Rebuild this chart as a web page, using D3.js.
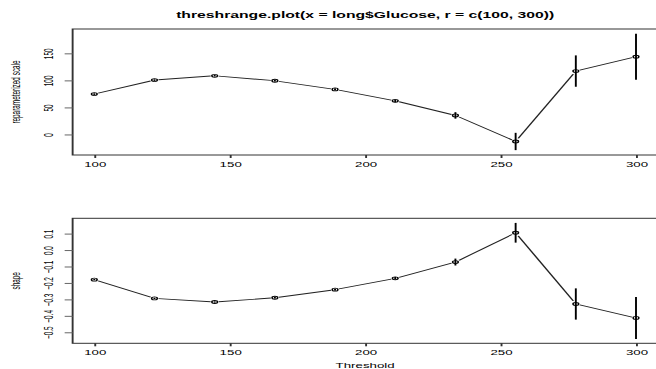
<!DOCTYPE html>
<html>
<head>
<meta charset="utf-8">
<script src="https://cdn.jsdelivr.net/npm/d3@7"></script>
<style>
  html, body { margin: 0; padding: 0; background: #fff; }
  svg { display: block; }
  text { font-family: "Liberation Sans", Arial, Helvetica, sans-serif; fill: #000; }
</style>
</head>
<body>
<svg id="chart" width="656" height="369"></svg>
<script>
// ---- data ----
const thresholds = [100, 122.22, 144.44, 166.67, 188.89, 211.11, 233.33, 255.56, 277.78, 300];
const scaleVals  = [74.6, 100.5, 108.5, 99.3, 83.3, 62.2, 35.2, -13, 117.2, 143.7];
const scaleErr   = [1.5, 1.5, 1.5, 1.5, 2, 2.5, 6, 16, 29, 42.5];
const shapeVals  = [-0.180, -0.294, -0.316, -0.290, -0.241, -0.172, -0.073, 0.105, -0.328, -0.413];
const shapeErr   = [0.004, 0.004, 0.004, 0.005, 0.006, 0.008, 0.021, 0.06, 0.095, 0.128];
const xTicks     = [100, 150, 200, 250, 300];
const scaleTicks = [0, 50, 100, 150];
const shapeTicks = [-0.5, -0.4, -0.3, -0.2, -0.1, 0.0, 0.1];
const titleText  = "threshrange.plot(x = long$Glucose, r = c(100, 300))";
const xLabel     = "Threshold";
const scaleLabel = "reparameterized scale";
const shapeLabel = "shape";

// ---- layout ----
const K = 1.9; // horizontal stretch of the whole picture
const svg = d3.select("#chart");
const root = svg.append("g").attr("transform", `scale(${K},1)`);

const x = d3.scaleLinear().domain([100, 300]).range([94.3 / K, 636 / K]);
const xDom = [92, 308];

const panels = [
  { vals: scaleVals, err: scaleErr, ticks: scaleTicks, label: scaleLabel,
    y: d3.scaleLinear().domain([-38, 195]).range([155, 29]), fmt: d3.format("d") },
  { vals: shapeVals, err: shapeErr, ticks: shapeTicks, label: shapeLabel,
    y: d3.scaleLinear().domain([-0.567, 0.193]).range([343.3, 218.3]), fmt: d3.format(".1f") }
];

const dark = "#222";

panels.forEach((p, pi) => {
  const g = root.append("g");
  const y = p.y;
  const [yb, yt] = y.range();
  const xl = x(xDom[0]), xr = x(xDom[1]);

  // box
  g.append("rect")
    .attr("x", xl).attr("y", yt)
    .attr("width", xr - xl).attr("height", yb - yt)
    .attr("fill", "none").attr("stroke", "#333").attr("stroke-width", 1);

  // x axis
  const xa = g.append("g").attr("transform", `translate(0,${yb})`)
    .call(d3.axisBottom(x).tickValues(xTicks).tickSize(3).tickPadding(4).tickFormat(d3.format("d")));
  xa.select(".domain").remove();
  xa.selectAll("line").attr("stroke", "#333").attr("stroke-width", 1);
  xa.selectAll("text").attr("font-size", 7).attr("font-family", null).attr("fill", "#000");

  // y axis
  const ya = g.append("g").attr("transform", `translate(${xl},0)`)
    .call(d3.axisLeft(y).tickValues(p.ticks).tickSize(4.2).tickFormat(p.fmt));
  ya.select(".domain").remove();
  ya.selectAll("line").attr("stroke", "#666").attr("stroke-width", 1);
  ya.selectAll("text")
    .attr("font-size", 6.4).attr("font-family", null).attr("fill", "#000")
    .attr("text-anchor", "middle").attr("dy", null)
    .attr("x", null)
    .attr("transform", `translate(${27.9 - xl},0) rotate(-90)`);

  // y label
  g.append("text")
    .attr("transform", `translate(${16 / K},${(yt + yb) / 2}) rotate(-90)`)
    .attr("text-anchor", "middle").attr("dominant-baseline", "central")
    .attr("font-size", 6.4).attr("fill", "#111").text(p.label);

  // lines with gaps (type "b")
  const pts = thresholds.map((t, i) => [x(t), y(p.vals[i])]);
  const gap = 4;
  for (let i = 0; i < pts.length - 1; i++) {
    const [x1, y1] = pts[i], [x2, y2] = pts[i + 1];
    const L = Math.hypot((x2 - x1) * K, y2 - y1);
    const f = gap / L;
    g.append("line")
      .attr("x1", x1 + f * (x2 - x1)).attr("y1", y1 + f * (y2 - y1))
      .attr("x2", x2 - f * (x2 - x1)).attr("y2", y2 - f * (y2 - y1))
      .attr("stroke", dark).attr("stroke-width", 0.9);
  }

  // error bars
  g.selectAll(".eb").data(thresholds).enter().append("line")
    .attr("x1", d => x(d)).attr("x2", d => x(d))
    .attr("y1", (d, i) => y(p.vals[i] - p.err[i]))
    .attr("y2", (d, i) => y(p.vals[i] + p.err[i]))
    .attr("stroke", "#000").attr("stroke-width", 1);

  // points
  g.selectAll(".pt").data(thresholds).enter().append("circle")
    .attr("cx", d => x(d)).attr("cy", (d, i) => y(p.vals[i]))
    .attr("r", 1.5).attr("fill", "none").attr("stroke", "#000").attr("stroke-width", 0.8);
});

// title
root.append("text")
  .attr("x", x((xDom[0] + xDom[1]) / 2)).attr("y", 18)
  .attr("text-anchor", "middle").attr("font-weight", "bold")
  .attr("font-size", 8.5)
  .attr("textLength", 378 / K).attr("lengthAdjust", "spacingAndGlyphs")
  .text(titleText);

// x label
root.append("text")
  .attr("x", x((xDom[0] + xDom[1]) / 2)).attr("y", 368)
  .attr("text-anchor", "middle").attr("font-size", 7)
  .text(xLabel);
</script>
</body>
</html>
